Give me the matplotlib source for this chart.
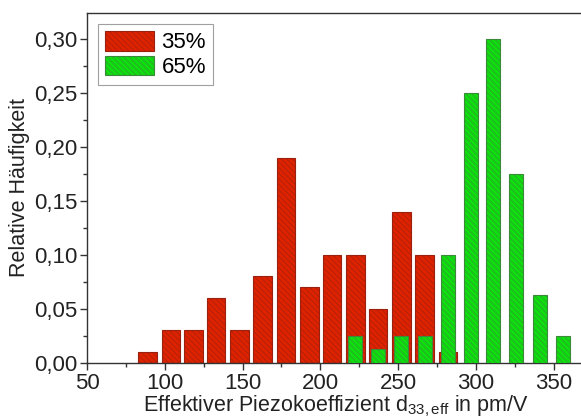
import matplotlib
matplotlib.use('Agg')
import matplotlib.pyplot as plt
from matplotlib.ticker import MultipleLocator, FuncFormatter

# d33,eff bin centres (pm/V) and relative frequencies
centers_35 = [89, 104, 118.5, 133, 148, 163, 178, 193, 207.5, 222.5, 237, 252, 267, 282]
freq_35 = [0.01, 0.03, 0.03, 0.06, 0.03, 0.08, 0.19, 0.07, 0.10, 0.10, 0.05, 0.14, 0.10, 0.01]

centers_65 = [222.5, 237, 252, 267, 282, 296.5, 311, 326, 341, 356]
freq_65 = [0.025, 0.0125, 0.025, 0.025, 0.10, 0.25, 0.30, 0.175, 0.0625, 0.025]

labels = ['35%', '65%']

plt.rcParams['font.family'] = ['Liberation Sans', 'DejaVu Sans']
plt.rcParams['mathtext.fontset'] = 'custom'
plt.rcParams['mathtext.rm'] = 'Liberation Sans'
plt.rcParams['mathtext.it'] = 'Liberation Sans'
plt.rcParams['hatch.linewidth'] = 0.4

fig = plt.figure(figsize=(5.81, 4.2), dpi=100)
ax = fig.add_axes([0.1497, 0.136, 0.857, 0.833])

ax.bar(centers_35, freq_35, width=12, color='#dd2200', edgecolor='#9a2010',
       hatch='\\\\\\\\\\\\', linewidth=0.8, label=labels[0], zorder=2)
ax.bar(centers_65, freq_65, width=9, color='#10dd10', edgecolor='#3a8a3a',
       hatch='\\\\\\\\\\\\', linewidth=0.8, label=labels[1], zorder=3)

ax.set_xlim(50, 370)
ax.set_ylim(0, 0.324)
ax.xaxis.set_major_locator(MultipleLocator(50))
ax.xaxis.set_minor_locator(MultipleLocator(25))
ax.yaxis.set_major_locator(MultipleLocator(0.05))
ax.yaxis.set_minor_locator(MultipleLocator(0.025))
ax.yaxis.set_major_formatter(FuncFormatter(lambda v, p: f'{v:.2f}'.replace('.', ',')))

for s in ax.spines.values():
    s.set_color('#333333')
    s.set_linewidth(1.0)
ax.tick_params(which='major', direction='out', length=5, width=1, color='#333333',
               labelsize=16, labelcolor='#222222', pad=2)
ax.tick_params(which='minor', direction='out', length=3, width=1, color='#333333')

ax.set_xlabel(r'Effektiver Piezokoeffizient d$_{33,\mathrm{eff}}$ in pm/V',
              fontsize=15.5, color='#222222', labelpad=0)
ax.set_ylabel('Relative Häufigkeit', fontsize=15.5, color='#222222', labelpad=3)

leg = ax.legend(loc='upper left', fontsize=16, frameon=True, fancybox=False,
                edgecolor='#888888', borderaxespad=0.5, handlelength=2.2,
                handleheight=1.0, handletextpad=0.35, borderpad=0.3, labelspacing=0.1)
leg.get_frame().set_linewidth(0.8)

fig.savefig('out.png', dpi=100)
